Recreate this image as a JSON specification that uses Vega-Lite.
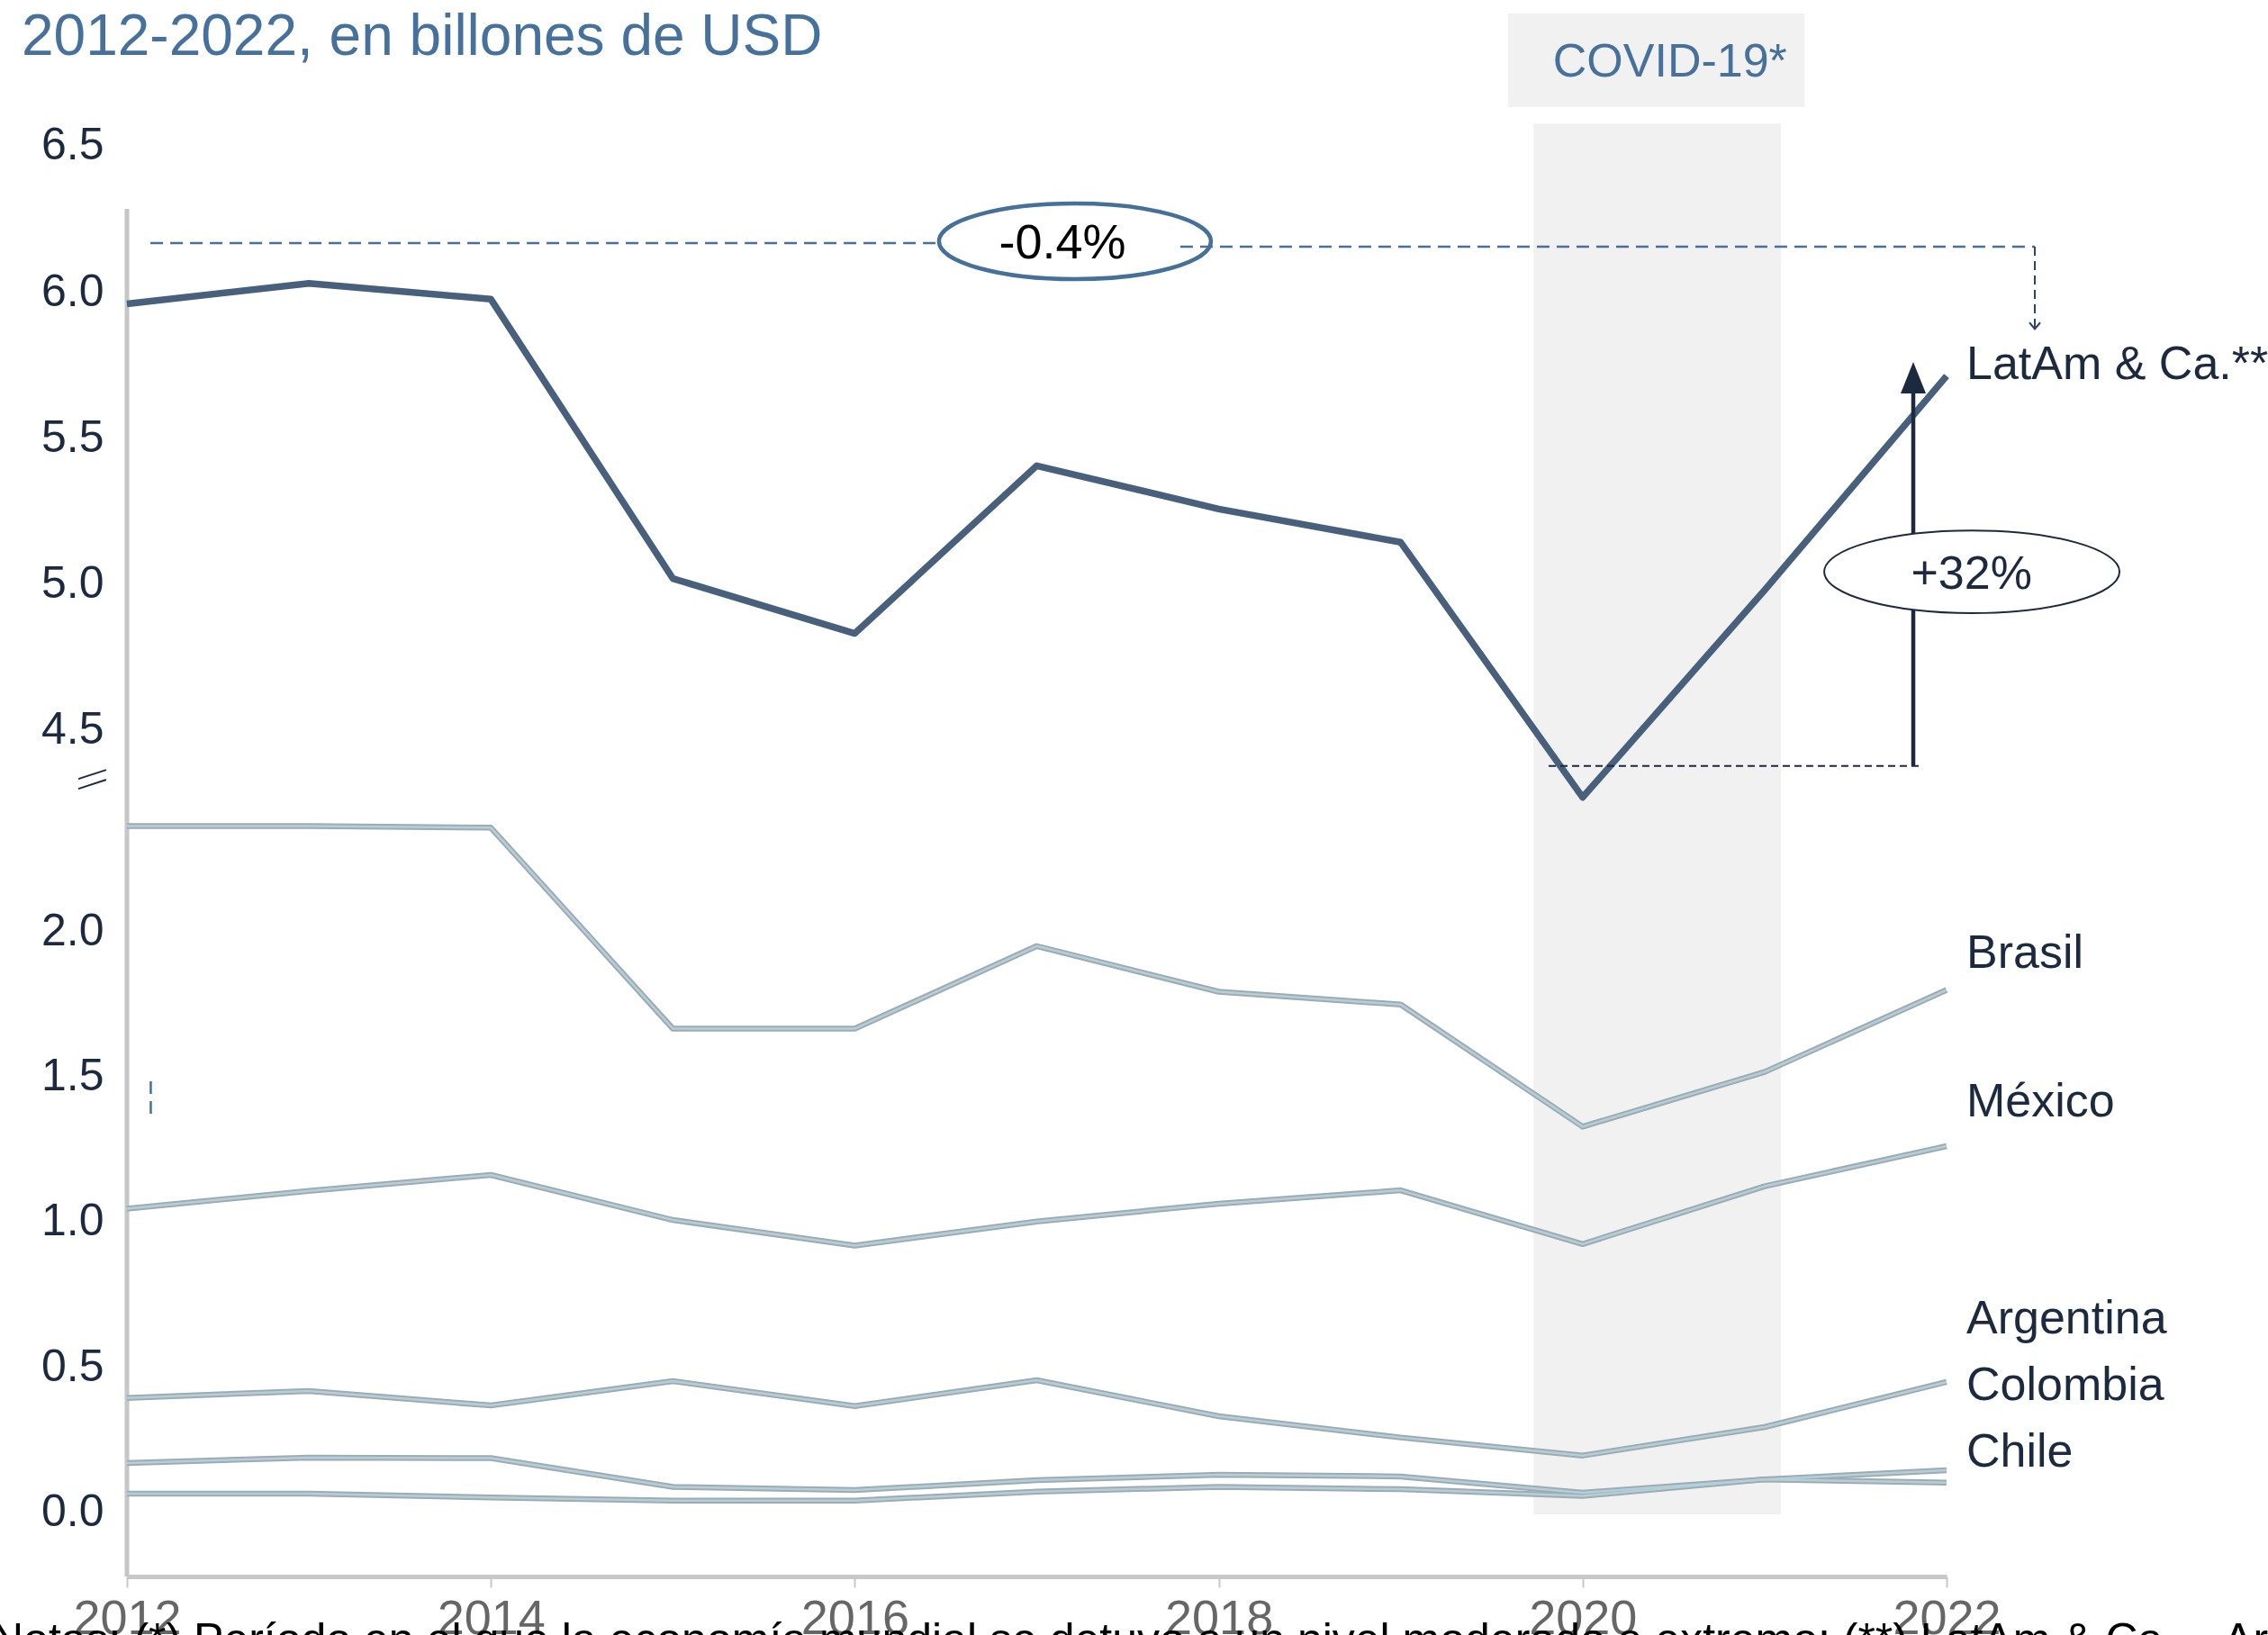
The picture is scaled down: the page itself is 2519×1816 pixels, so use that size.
{
  "$schema": "https://vega.github.io/schema/vega-lite/v6.json",
  "width": 2021,
  "height": 1651,
  "autosize": {"type": "none"},
  "padding": {"left": 141, "top": 100, "right": 357, "bottom": 65},
  "background": "white",
  "config": {
    "view": {"stroke": null},
    "font": "Liberation Sans",
    "axisX": {"grid": false, "domain": true, "domainColor": "#c8c8c8", "domainWidth": 5, "ticks": true, "tickColor": "#c8c8c8", "tickSize": 12, "tickWidth": 2, "labelFontSize": 54, "labelColor": "#666666", "labelPadding": 8, "labelFlush": false, "labelFont": "Liberation Sans", "labelOverlap": false},
    "axisY": {"grid": false, "domain": false, "ticks": false, "labelFontSize": 50, "labelColor": "#1b2a41", "labelPadding": 26, "labelFont": "Liberation Sans", "labelOverlap": false}
  },
  "datasets": {
    "paises": [
      {"pais": "Brasil", "anio": 2012, "valor": 2.361}, {"pais": "Brasil", "anio": 2013, "valor": 2.361}, {"pais": "Brasil", "anio": 2014, "valor": 2.355}, {"pais": "Brasil", "anio": 2015, "valor": 1.664}, {"pais": "Brasil", "anio": 2016, "valor": 1.664}, {"pais": "Brasil", "anio": 2017, "valor": 1.948}, {"pais": "Brasil", "anio": 2018, "valor": 1.791}, {"pais": "Brasil", "anio": 2019, "valor": 1.747}, {"pais": "Brasil", "anio": 2020, "valor": 1.327}, {"pais": "Brasil", "anio": 2021, "valor": 1.515}, {"pais": "Brasil", "anio": 2022, "valor": 1.797},
      {"pais": "México", "anio": 2012, "valor": 1.045}, {"pais": "México", "anio": 2013, "valor": 1.106}, {"pais": "México", "anio": 2014, "valor": 1.161}, {"pais": "México", "anio": 2015, "valor": 1.006}, {"pais": "México", "anio": 2016, "valor": 0.918}, {"pais": "México", "anio": 2017, "valor": 1.001}, {"pais": "México", "anio": 2018, "valor": 1.062}, {"pais": "México", "anio": 2019, "valor": 1.108}, {"pais": "México", "anio": 2020, "valor": 0.923}, {"pais": "México", "anio": 2021, "valor": 1.122}, {"pais": "México", "anio": 2022, "valor": 1.26},
      {"pais": "Argentina", "anio": 2012, "valor": 0.394}, {"pais": "Argentina", "anio": 2013, "valor": 0.418}, {"pais": "Argentina", "anio": 2014, "valor": 0.368}, {"pais": "Argentina", "anio": 2015, "valor": 0.452}, {"pais": "Argentina", "anio": 2016, "valor": 0.366}, {"pais": "Argentina", "anio": 2017, "valor": 0.455}, {"pais": "Argentina", "anio": 2018, "valor": 0.331}, {"pais": "Argentina", "anio": 2019, "valor": 0.258}, {"pais": "Argentina", "anio": 2020, "valor": 0.196}, {"pais": "Argentina", "anio": 2021, "valor": 0.294}, {"pais": "Argentina", "anio": 2022, "valor": 0.449},
      {"pais": "Colombia", "anio": 2012, "valor": 0.17}, {"pais": "Colombia", "anio": 2013, "valor": 0.189}, {"pais": "Colombia", "anio": 2014, "valor": 0.187}, {"pais": "Colombia", "anio": 2015, "valor": 0.088}, {"pais": "Colombia", "anio": 2016, "valor": 0.077}, {"pais": "Colombia", "anio": 2017, "valor": 0.111}, {"pais": "Colombia", "anio": 2018, "valor": 0.13}, {"pais": "Colombia", "anio": 2019, "valor": 0.124}, {"pais": "Colombia", "anio": 2020, "valor": 0.068}, {"pais": "Colombia", "anio": 2021, "valor": 0.114}, {"pais": "Colombia", "anio": 2022, "valor": 0.145},
      {"pais": "Chile", "anio": 2012, "valor": 0.065}, {"pais": "Chile", "anio": 2013, "valor": 0.065}, {"pais": "Chile", "anio": 2014, "valor": 0.052}, {"pais": "Chile", "anio": 2015, "valor": 0.041}, {"pais": "Chile", "anio": 2016, "valor": 0.041}, {"pais": "Chile", "anio": 2017, "valor": 0.072}, {"pais": "Chile", "anio": 2018, "valor": 0.088}, {"pais": "Chile", "anio": 2019, "valor": 0.08}, {"pais": "Chile", "anio": 2020, "valor": 0.057}, {"pais": "Chile", "anio": 2021, "valor": 0.114}, {"pais": "Chile", "anio": 2022, "valor": 0.103}
    ],
    "latam": [
      {"pais": "LatAm & Ca.", "anio": 2012, "valor": 5.959}, {"pais": "LatAm & Ca.", "anio": 2013, "valor": 6.029}, {"pais": "LatAm & Ca.", "anio": 2014, "valor": 5.975}, {"pais": "LatAm & Ca.", "anio": 2015, "valor": 5.019}, {"pais": "LatAm & Ca.", "anio": 2016, "valor": 4.831}, {"pais": "LatAm & Ca.", "anio": 2017, "valor": 5.405}, {"pais": "LatAm & Ca.", "anio": 2018, "valor": 5.257}, {"pais": "LatAm & Ca.", "anio": 2019, "valor": 5.143}, {"pais": "LatAm & Ca.", "anio": 2020, "valor": 4.27}, {"pais": "LatAm & Ca.", "anio": 2021, "valor": 4.979}, {"pais": "LatAm & Ca.", "anio": 2022, "valor": 5.712}
    ],
    "etiquetas": [
      {"label": "Brasil", "anio": 2022, "valor": 1.873},
      {"label": "México", "anio": 2022, "valor": 1.362},
      {"label": "Argentina", "anio": 2022, "valor": 0.616},
      {"label": "Colombia", "anio": 2022, "valor": 0.387},
      {"label": "Chile", "anio": 2022, "valor": 0.158}
    ]
  },
  "layer": [
    {
      "layer": [
        {
          "data": {"values": [{"inicio": 2019.73, "fin": 2021.09}]},
          "mark": {"type": "rect", "color": "#f1f1f1"},
          "encoding": {
            "x": {"field": "inicio", "type": "quantitative", "axis": {"title": null}},
            "x2": {"field": "fin"},
            "y": {"datum": -0.006, "type": "quantitative", "axis": {"title": null}},
            "y2": {"datum": 4.777}
          }
        },
        {
          "data": {"values": [{}]},
          "mark": {"type": "rule", "color": "#c6c6c6", "strokeWidth": 5},
          "encoding": {
            "x": {"datum": 2012, "type": "quantitative", "axis": {"title": null}},
            "y": {"datum": 4.483, "type": "quantitative", "axis": {"title": null}},
            "y2": {"datum": -0.22}
          }
        },
        {
          "data": {"name": "paises"},
          "mark": {"type": "line", "color": "#a0abb1", "strokeWidth": 6.5, "strokeJoin": "round"},
          "encoding": {
            "x": {"field": "anio", "type": "quantitative",
              "scale": {"domain": [2012, 2022], "nice": false, "zero": false},
              "axis": {"values": [2012, 2014, 2016, 2018, 2020, 2022], "format": "d", "title": null}},
            "y": {"field": "valor", "type": "quantitative",
              "scale": {"domain": [-0.22, 4.892], "nice": false, "zero": false},
              "axis": {"orient": "left", "values": [0, 0.5, 1, 1.5, 2], "format": ".1f", "title": null}},
            "detail": {"field": "pais"}
          }
        },
        {
          "data": {"name": "paises"},
          "mark": {"type": "line", "color": "#b2d0dc", "strokeWidth": 2.5, "strokeJoin": "round"},
          "encoding": {
            "x": {"field": "anio", "type": "quantitative", "axis": {"title": null}},
            "y": {"field": "valor", "type": "quantitative", "axis": {"title": null}},
            "detail": {"field": "pais"}
          }
        },
        {
          "data": {"name": "etiquetas"},
          "mark": {"type": "text", "align": "left", "baseline": "alphabetic", "dx": 22, "fontSize": 52, "color": "#1c2a40", "font": "Liberation Sans"},
          "encoding": {
            "x": {"field": "anio", "type": "quantitative", "axis": {"title": null}},
            "y": {"field": "valor", "type": "quantitative", "axis": {"title": null}},
            "text": {"field": "label"}
          }
        },
        {
          "data": {"values": [{"x1": 2011.733, "y1": 2.523, "x2": 2011.886, "y2": 2.554}, {"x1": 2011.733, "y1": 2.489, "x2": 2011.886, "y2": 2.52}]},
          "mark": {"type": "rule", "color": "#1c2a40", "strokeWidth": 2},
          "encoding": {
            "x": {"field": "x1", "type": "quantitative", "axis": {"title": null}},
            "x2": {"field": "x2"},
            "y": {"field": "y1", "type": "quantitative", "axis": {"title": null}},
            "y2": {"field": "y2"}
          }
        },
        {
          "data": {"values": [{}]},
          "mark": {"type": "rule", "color": "#45719c", "strokeWidth": 2.5, "strokeDash": [14, 8]},
          "encoding": {
            "x": {"datum": 2012.131, "type": "quantitative", "axis": {"title": null}},
            "y": {"datum": 1.483, "type": "quantitative", "axis": {"title": null}},
            "y2": {"datum": 1.368}
          }
        },
        {
          "data": {"values": [{}]},
          "mark": {"type": "text", "align": "left", "baseline": "alphabetic", "dx": -151, "fontSize": 50, "color": "#000000", "font": "Liberation Sans"},
          "encoding": {
            "x": {"datum": 2012, "type": "quantitative", "axis": {"title": null}},
            "y": {"datum": -0.489, "type": "quantitative", "axis": {"title": null}},
            "text": {"value": "Notas: (*) Período en el que la economía mundial se detuvo a un nivel moderado a extremo; (**) LatAm & Ca. – Ar"}
          }
        }
      ]
    },
    {
      "layer": [
        {
          "data": {"values": [{}]},
          "mark": {"type": "text", "align": "left", "baseline": "alphabetic", "fontSize": 64, "color": "#45719c", "font": "Liberation Sans"},
          "encoding": {
            "x": {"datum": 2011.421, "type": "quantitative", "axis": {"title": null}},
            "y": {"datum": 6.811, "type": "quantitative", "axis": {"title": null}},
            "text": {"value": "2012-2022, en billones de USD"}
          }
        },
        {
          "data": {"values": [{}]},
          "mark": {"type": "rect", "color": "#f1f1f1"},
          "encoding": {
            "x": {"datum": 2019.59, "type": "quantitative", "axis": {"title": null}},
            "x2": {"datum": 2021.22},
            "y": {"datum": 6.953, "type": "quantitative", "axis": {"title": null}},
            "y2": {"datum": 6.633}
          }
        },
        {
          "data": {"values": [{}]},
          "mark": {"type": "text", "align": "center", "baseline": "alphabetic", "fontSize": 52, "color": "#45719c", "font": "Liberation Sans"},
          "encoding": {
            "x": {"datum": 2020.48, "type": "quantitative", "axis": {"title": null}},
            "y": {"datum": 6.737, "type": "quantitative", "axis": {"title": null}},
            "text": {"value": "COVID-19*"}
          }
        },
        {
          "data": {"name": "latam"},
          "mark": {"type": "line", "color": "#48607c", "strokeWidth": 7.5, "strokeJoin": "round"},
          "encoding": {
            "x": {"field": "anio", "type": "quantitative", "axis": {"title": null}},
            "y": {"field": "valor", "type": "quantitative",
              "scale": {"domain": [1.603, 6.691], "nice": false, "zero": false},
              "axis": {"orient": "left", "values": [4.5, 5, 5.5, 6, 6.5], "format": ".1f", "title": null}}
          }
        },
        {
          "data": {"values": [{"x1": 2012.129, "x2": 2016.463, "y1": 6.167}, {"x1": 2017.789, "x2": 2022.485, "y1": 6.155}]},
          "mark": {"type": "rule", "color": "#45719c", "strokeWidth": 2.5, "strokeDash": [14, 8]},
          "encoding": {
            "x": {"field": "x1", "type": "quantitative", "axis": {"title": null}},
            "x2": {"field": "x2"},
            "y": {"field": "y1", "type": "quantitative", "axis": {"title": null}}
          }
        },
        {
          "data": {"values": [{}]},
          "mark": {"type": "rule", "color": "#2c4560", "strokeWidth": 2, "strokeDash": [10, 6]},
          "encoding": {
            "x": {"datum": 2022.485, "type": "quantitative", "axis": {"title": null}},
            "y": {"datum": 6.155, "type": "quantitative", "axis": {"title": null}},
            "y2": {"datum": 5.875}
          }
        },
        {
          "data": {"values": [{}]},
          "mark": {"type": "point", "shape": "M-1,-0.6 L0,0.6 L1,-0.6", "size": 144, "filled": false, "stroke": "#2c4560", "strokeWidth": 2, "opacity": 1},
          "encoding": {
            "x": {"datum": 2022.485, "type": "quantitative", "axis": {"title": null}},
            "y": {"datum": 5.884, "type": "quantitative", "axis": {"title": null}}
          }
        },
        {
          "data": {"values": [{}]},
          "mark": {"type": "point", "shape": "M-1,0 C-1,-0.1535 -0.5523,-0.278 0,-0.278 C0.5523,-0.278 1,-0.1535 1,0 C1,0.1535 0.5523,0.278 0,0.278 C-0.5523,0.278 -1,0.1535 -1,0 Z", "size": 91204, "filled": false, "stroke": "#44709a", "strokeWidth": 4.5, "opacity": 1},
          "encoding": {
            "x": {"datum": 2017.21, "type": "quantitative", "axis": {"title": null}},
            "y": {"datum": 6.173, "type": "quantitative", "axis": {"title": null}}
          }
        },
        {
          "data": {"values": [{}]},
          "mark": {"type": "text", "align": "center", "baseline": "alphabetic", "fontSize": 54, "color": "#000000", "font": "Liberation Sans"},
          "encoding": {
            "x": {"datum": 2017.141, "type": "quantitative", "axis": {"title": null}},
            "y": {"datum": 6.115, "type": "quantitative", "axis": {"title": null}},
            "text": {"value": "-0.4%"}
          }
        },
        {
          "data": {"values": [{}]},
          "mark": {"type": "rule", "color": "#1c2a40", "strokeWidth": 2, "strokeDash": [8, 5]},
          "encoding": {
            "x": {"datum": 2019.813, "type": "quantitative", "axis": {"title": null}},
            "x2": {"datum": 2021.857},
            "y": {"datum": 4.377, "type": "quantitative", "axis": {"title": null}}
          }
        },
        {
          "data": {"values": [{}]},
          "mark": {"type": "rule", "color": "#1c2a40", "strokeWidth": 4.5},
          "encoding": {
            "x": {"datum": 2021.817, "type": "quantitative", "axis": {"title": null}},
            "y": {"datum": 4.377, "type": "quantitative", "axis": {"title": null}},
            "y2": {"datum": 5.674}
          }
        },
        {
          "data": {"values": [{}]},
          "mark": {"type": "point", "shape": "M0,-1 L0.8,1 L-0.8,1 Z", "size": 1225, "filled": true, "color": "#1c2a40", "opacity": 1},
          "encoding": {
            "x": {"datum": 2021.817, "type": "quantitative", "axis": {"title": null}},
            "y": {"datum": 5.706, "type": "quantitative", "axis": {"title": null}}
          }
        },
        {
          "data": {"values": [{}]},
          "mark": {"type": "point", "shape": "M-1,0 C-1,-0.1546 -0.5523,-0.28 0,-0.28 C0.5523,-0.28 1,-0.1546 1,0 C1,0.1546 0.5523,0.28 0,0.28 C-0.5523,0.28 -1,0.1546 -1,0 Z", "size": 107584, "filled": true, "fill": "#ffffff", "stroke": "#1c2a40", "strokeWidth": 2, "opacity": 1},
          "encoding": {
            "x": {"datum": 2022.139, "type": "quantitative", "axis": {"title": null}},
            "y": {"datum": 5.042, "type": "quantitative", "axis": {"title": null}}
          }
        },
        {
          "data": {"values": [{}]},
          "mark": {"type": "text", "align": "center", "baseline": "alphabetic", "fontSize": 52, "color": "#1c2a40", "font": "Liberation Sans"},
          "encoding": {
            "x": {"datum": 2022.137, "type": "quantitative", "axis": {"title": null}},
            "y": {"datum": 4.984, "type": "quantitative", "axis": {"title": null}},
            "text": {"value": "+32%"}
          }
        },
        {
          "data": {"values": [{}]},
          "mark": {"type": "text", "align": "left", "baseline": "alphabetic", "dx": 22, "fontSize": 52, "color": "#1c2a40", "font": "Liberation Sans"},
          "encoding": {
            "x": {"datum": 2022, "type": "quantitative", "axis": {"title": null}},
            "y": {"datum": 5.702, "type": "quantitative", "axis": {"title": null}},
            "text": {"value": "LatAm & Ca.**"}
          }
        }
      ]
    }
  ],
  "resolve": {"scale": {"y": "independent"}, "axis": {"y": "independent"}}
}
